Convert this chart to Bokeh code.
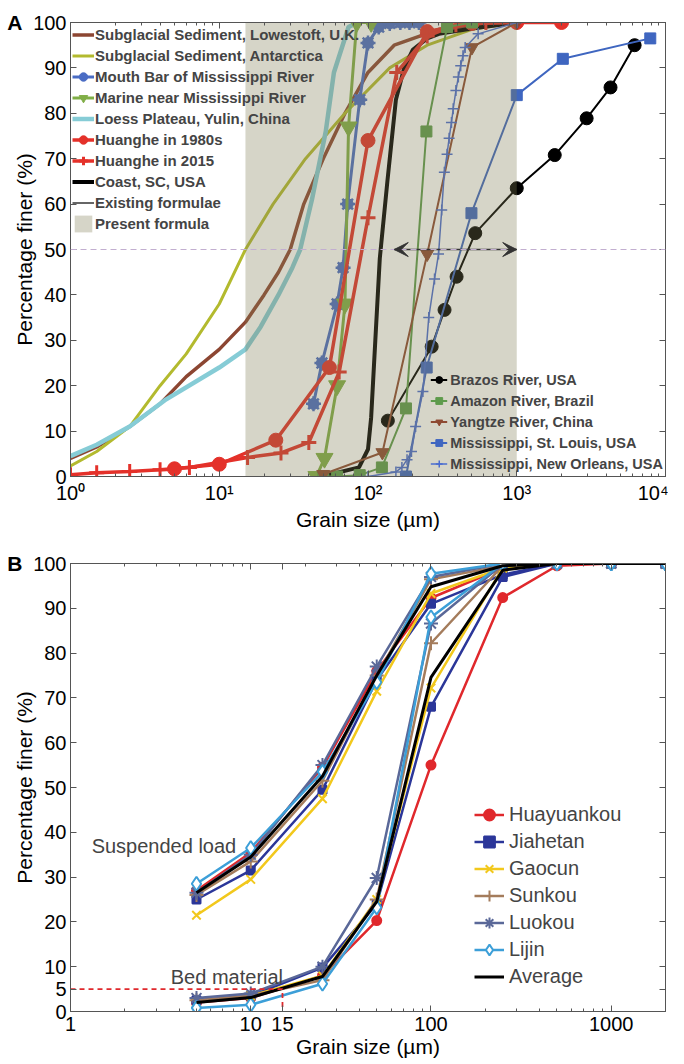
from bokeh.plotting import figure
from bokeh.layouts import column
from bokeh.models import (Range1d, FixedTicker, LinearAxis, LogAxis, Legend, LegendItem,
                          Span, Arrow, VeeHead, Label, CustomJSTickFormatter)
from bokeh.embed import file_html
from bokeh.resources import INLINE

FONT = "Liberation Sans"
AXC = "#555555"

# ---------------- Panel A data ----------------
lowestoft_x = [1, 1.5, 2.5, 4, 6, 10, 15, 20, 25, 30, 37, 50, 70, 100, 150, 300, 1000]
lowestoft_y = [4, 6.5, 11, 16, 22, 28, 34, 40, 45, 50, 60, 70, 80, 89, 95, 98.5, 100]

antarctica_x = [1, 1.5, 2.5, 4, 6, 10, 15, 23, 38, 70, 140, 250, 500, 1000]
antarctica_y = [2.3, 5.5, 11, 20, 27, 38, 50, 60, 70, 80, 90, 95, 98.5, 100]

mouthbar_x = [43, 49, 62, 68, 73, 88, 100, 118, 140, 165, 190, 220]
mouthbar_y = [16, 25, 38, 46, 60, 83, 95.5, 99, 99.8, 100, 100, 100]

marine_x = [45, 51, 62, 70, 74, 84, 105]
marine_y = [0, 4, 20, 38, 77, 100, 100]

loess_x = [1, 1.5, 2.5, 4.4, 10, 15, 19, 25, 31, 35, 42, 52, 59, 74, 85]
loess_y = [4.5, 7, 11, 17, 24, 28, 33, 40, 46, 50, 61, 76, 89, 99, 100]

hh1980_x = [5, 10, 24, 55, 100, 250, 500, 1000, 2000]
hh1980_y = [1.7, 2.7, 8, 24, 74, 98, 99.8, 100, 100]

hh2015_x = [1, 1.5, 2.5, 4, 6.3, 15.5, 26, 40, 64, 100, 156, 250, 390, 620]
hh2015_y = [0.4, 0.8, 1.1, 1.5, 2.0, 4.2, 5.2, 7.5, 23, 57, 89, 97, 99.5, 100]

coast_x = [49, 87, 100, 105, 112, 120, 135, 154, 175, 200, 250, 300, 500, 1000]
coast_y = [0, 2, 6, 13, 30, 48, 65, 83, 90, 94, 96.5, 97.5, 98.7, 100]

brazos_x = [136, 268, 327, 394, 526, 1000, 1800, 2950, 4270, 6200]
brazos_y = [12.3, 28.6, 36.7, 44, 53.6, 63.5, 70.8, 78.9, 85.7, 95]

amazon_x = [50, 62, 88, 124, 180, 247, 340, 500]
amazon_y = [0, 0, 0.3, 2, 15, 76, 99, 100]

yangtze_x = [50, 125, 250, 500, 1000]
yangtze_y = [0.5, 5.3, 49, 94.5, 100]

stlouis_x = [180, 248, 496, 1000, 2040, 7900]
stlouis_y = [0, 24, 58, 84, 92, 96.5]

neworleans_x = [100, 154, 169, 183, 196, 209, 234, 256, 280, 298, 313, 326, 340, 351,
                364, 374, 390, 405, 420, 435, 450, 550, 1000]
neworleans_y = [0, 1, 2, 3.7, 5.5, 11, 18.7, 35, 43.5, 49, 58.7, 67, 71, 74.5,
                78, 81, 85, 88, 90.5, 92.7, 94.5, 97.5, 100]

present_formula_range = [15, 1000]      # shaded band (um)
existing_formulae_range = [150, 1000]   # double arrow (um)
d50_level = 50

a_xticks = [1, 10, 100, 1000, 10000]
a_yticks = [0, 10, 20, 30, 40, 50, 60, 70, 80, 90, 100]
a_xminor = [m * d for d in (1, 10, 100, 1000) for m in (2, 3, 4, 5, 6, 7, 8, 9)]

# ---------------- Panel B data ----------------
b_x = [5, 10, 25, 50, 100, 250, 500, 1000, 2000]
stations = ["Huayuankou", "Jiahetan", "Gaocun", "Sunkou", "Luokou", "Lijin", "Average"]
suspended = {
    "Huayuankou": [27, 35.5, 54.5, 76, 92.3, 99, 100, 100, 100],
    "Jiahetan":   [25, 31.5, 49.5, 74, 91, 97.5, 100, 100, 100],
    "Gaocun":     [21.5, 29.5, 47.5, 71.5, 93.3, 99, 100, 100, 100],
    "Sunkou":     [26, 33.5, 51.5, 75, 96.5, 99.5, 100, 100, 100],
    "Luokou":     [26.5, 35, 55, 77, 97, 100, 100, 100, 100],
    "Lijin":      [28.5, 36.5, 53.5, 73.5, 97.7, 100, 100, 100, 100],
    "Average":    [26.5, 34.5, 52.5, 75, 94.8, 99.5, 100, 100, 100],
}
bed = {
    "Huayuankou": [2, 3, 8, 20.3, 55, 92.4, 99.5, 100, 100],
    "Jiahetan":   [2.5, 3.5, 9.8, 24, 68, 97, 100, 100, 100],
    "Gaocun":     [2, 3.5, 8, 25, 72.2, 99, 100, 100, 100],
    "Sunkou":     [2.5, 3.5, 7, 25, 82.2, 99.5, 100, 100, 100],
    "Luokou":     [3, 4, 10, 29.8, 86.6, 99.8, 100, 100, 100],
    "Lijin":      [0.8, 1.5, 6.2, 23.2, 88, 100, 100, 100, 100],
    "Average":    [2, 3.1, 7.8, 24.5, 74.6, 98.5, 100, 100, 100],
}
b_dashed_x = [1, 15, 15]
b_dashed_y = [5, 5, 0]
b_xticks = [1, 10, 15, 100, 1000]
b_xminor = [2, 3, 4, 5, 6, 7, 8, 9, 20, 30, 40, 50, 60, 70, 80, 90,
            200, 300, 400, 500, 600, 700, 800, 900]
b_yticks = [0, 5, 10, 20, 30, 40, 50, 60, 70, 80, 90, 100]


def style(p, xt, xm, yt, fmt_code):
    p.grid.grid_line_color = None
    p.outline_line_color = AXC
    xa = p.xaxis[0]
    ya = p.yaxis[0]
    xa.ticker = FixedTicker(ticks=xt, minor_ticks=xm)
    xa.formatter = CustomJSTickFormatter(code=fmt_code)
    ya.ticker = FixedTicker(ticks=yt)
    for ax in (xa, ya):
        ax.major_tick_in = 6
        ax.major_tick_out = 0
        ax.minor_tick_in = 3
        ax.minor_tick_out = 0
        ax.axis_line_color = AXC
        ax.major_tick_line_color = AXC
        ax.minor_tick_line_color = AXC
        ax.major_label_text_font = FONT
        ax.major_label_text_font_size = "20px"
        ax.major_label_text_color = "black"
        ax.axis_label_text_font = FONT
        ax.axis_label_text_font_size = "21px"
        ax.axis_label_text_font_style = "normal"
        ax.axis_label_text_color = "black"
    xa.axis_label_standoff = 1
    ya.axis_label_standoff = -6
    ya.minor_tick_line_color = None
    ya.major_label_standoff = 4
    xa.major_label_standoff = 5
    xa.axis_label = "Grain size (µm)"
    ya.axis_label = "Percentage finer (%)"
    top = LogAxis(ticker=FixedTicker(ticks=xt, minor_ticks=xm))
    right = LinearAxis(ticker=FixedTicker(ticks=yt))
    for ax in (top, right):
        ax.formatter = CustomJSTickFormatter(code="return ''")
        ax.major_label_text_font_size = "0px"
        ax.major_label_standoff = 0
        ax.major_tick_in = 6
        ax.major_tick_out = 0
        ax.minor_tick_in = 3
        ax.minor_tick_out = 0
        ax.axis_line_color = AXC
        ax.major_tick_line_color = AXC
        ax.minor_tick_line_color = AXC
    right.minor_tick_line_color = None
    p.add_layout(top, "above")
    p.add_layout(right, "right")


def panel_letter(p, letter, at, standoff):
    # an extra, tick-less left axis whose only label is the bold panel letter
    ax = LinearAxis(ticker=FixedTicker(ticks=[at]),
                    formatter=CustomJSTickFormatter(code="return '%s';" % letter))
    ax.axis_line_color = None
    ax.major_tick_line_color = None
    ax.minor_tick_line_color = None
    ax.major_tick_in = 0
    ax.major_tick_out = 0
    ax.minor_tick_in = 0
    ax.minor_tick_out = 0
    ax.major_label_standoff = standoff
    ax.major_label_text_font = FONT
    ax.major_label_text_font_style = "bold"
    ax.major_label_text_font_size = "21px"
    ax.major_label_text_color = "black"
    p.add_layout(ax, "left")


# ======================= Panel A =======================
pa = figure(width=668, height=535, x_axis_type="log",
            x_range=Range1d(1, 1e4), y_range=Range1d(0, 100),
            output_backend="svg", toolbar_location=None,
            min_border_left=70, min_border_right=3, min_border_top=22, min_border_bottom=59)
sup_code = """
const s = {"0":"\u2070","1":"\u00b9","2":"\u00b2","3":"\u00b3","4":"\u2074"};
const e = Math.round(Math.log10(tick));
return "10" + s[String(e)];
"""
style(pa, a_xticks, a_xminor, a_yticks, sup_code)
panel_letter(pa, "A", a_yticks[-1], -12)

BROWN = "#8c4632"
OLIVE = "#b3ba2e"
MBLUE = "#4a6cc4"
MGREEN = "#80ae47"
CYAN = "#86ccd6"
RED = "#e4312a"
AGREEN = "#5e9b4c"
YBROWN = "#8e4a32"
SBLUE = "#3f66c0"
NBLUE = "#4a6cd0"

r_low = pa.line(lowestoft_x, lowestoft_y, line_color=BROWN, line_width=3.5)
r_ant = pa.line(antarctica_x, antarctica_y, line_color=OLIVE, line_width=3)
r_loess = pa.line(loess_x, loess_y, line_color=CYAN, line_width=4.5)
r_coast = pa.line(coast_x, coast_y, line_color="black", line_width=4)

r_mb = pa.line(mouthbar_x, mouthbar_y, line_color=MBLUE, line_width=3)
r_mb_c = pa.scatter(mouthbar_x, mouthbar_y, marker="circle", size=11, fill_color=MBLUE, line_color=MBLUE)
r_mb_a = pa.scatter(mouthbar_x, mouthbar_y, marker="asterisk", size=15, line_color=MBLUE, line_width=2.5)

r_mar = pa.line(marine_x, marine_y, line_color=MGREEN, line_width=3)
r_mar_s = pa.scatter(marine_x, marine_y, marker="inverted_triangle", size=17, fill_color=MGREEN, line_color=MGREEN)

r_80 = pa.line(hh1980_x, hh1980_y, line_color=RED, line_width=3.5)
r_80_s = pa.scatter(hh1980_x, hh1980_y, marker="circle", size=14, fill_color=RED, line_color=RED)
r_15 = pa.line(hh2015_x, hh2015_y, line_color=RED, line_width=3.5)
r_15_s = pa.scatter(hh2015_x, hh2015_y, marker="cross", size=15, line_color=RED, line_width=3)

r_br = pa.line(brazos_x, brazos_y, line_color="black", line_width=2)
r_br_s = pa.scatter(brazos_x, brazos_y, marker="circle", size=13, fill_color="black", line_color="black")
r_am = pa.line(amazon_x, amazon_y, line_color=AGREEN, line_width=2)
r_am_s = pa.scatter(amazon_x, amazon_y, marker="square", size=11, fill_color=AGREEN, line_color=AGREEN)
r_ya = pa.line(yangtze_x, yangtze_y, line_color=YBROWN, line_width=2)
r_ya_s = pa.scatter(yangtze_x, yangtze_y, marker="inverted_triangle", size=13, fill_color=YBROWN, line_color=YBROWN)
r_sl = pa.line(stlouis_x, stlouis_y, line_color=SBLUE, line_width=2)
r_sl_s = pa.scatter(stlouis_x, stlouis_y, marker="square", size=11, fill_color=SBLUE, line_color=SBLUE)
r_no = pa.line(neworleans_x, neworleans_y, line_color=NBLUE, line_width=1.5)
r_no_s = pa.scatter(neworleans_x, neworleans_y, marker="cross", size=11, line_color=NBLUE, line_width=1.5)

r_shade = pa.quad(left=[present_formula_range[0]], right=[present_formula_range[1]],
                  bottom=[0], top=[100], fill_color="#7f7c53", fill_alpha=0.32, line_color=None)

pa.add_layout(Span(location=d50_level, dimension="width", line_color="#c2aed0",
                   line_dash="6 4", line_width=1.2))
r_arrow = pa.segment(x0=[existing_formulae_range[0]], y0=[d50_level],
                     x1=[existing_formulae_range[1]], y1=[d50_level],
                     line_color="#333333", line_width=1.5)
pa.add_layout(Arrow(start=VeeHead(size=14, line_color="#333333", fill_color="#333333"),
                    end=VeeHead(size=14, line_color="#333333", fill_color="#333333"),
                    x_start=existing_formulae_range[0], y_start=d50_level,
                    x_end=existing_formulae_range[1], y_end=d50_level,
                    line_alpha=0))

leg1 = Legend(items=[
    LegendItem(label="Subglacial Sediment, Lowestoft, U.K.", renderers=[r_low]),
    LegendItem(label="Subglacial Sediment, Antarctica", renderers=[r_ant]),
    LegendItem(label="Mouth Bar of Mississippi River", renderers=[r_mb, r_mb_c]),
    LegendItem(label="Marine near Mississippi River", renderers=[r_mar, r_mar_s]),
    LegendItem(label="Loess Plateau, Yulin, China", renderers=[r_loess]),
    LegendItem(label="Huanghe in 1980s", renderers=[r_80, r_80_s]),
    LegendItem(label="Huanghe in 2015", renderers=[r_15, r_15_s]),
    LegendItem(label="Coast, SC, USA", renderers=[r_coast]),
    LegendItem(label="Existing formulae", renderers=[r_arrow]),
    LegendItem(label="Present formula", renderers=[r_shade]),
], location="top_left", label_text_font=FONT, label_text_font_size="15px",
    label_text_font_style="bold", glyph_width=22, glyph_height=21, label_height=21,
    spacing=0, padding=1, margin=1, label_standoff=1,
    background_fill_alpha=0, border_line_alpha=0)
pa.add_layout(leg1)

leg2 = Legend(items=[
    LegendItem(label="Brazos River, USA", renderers=[r_br, r_br_s]),
    LegendItem(label="Amazon River, Brazil", renderers=[r_am, r_am_s]),
    LegendItem(label="Yangtze River, China", renderers=[r_ya, r_ya_s]),
    LegendItem(label="Mississippi, St. Louis, USA", renderers=[r_sl, r_sl_s]),
    LegendItem(label="Mississippi, New Orleans, USA", renderers=[r_no, r_no_s]),
], location="bottom_right", label_text_font=FONT, label_text_font_size="14.5px",
    label_text_font_style="bold", glyph_width=17, glyph_height=21, label_height=21,
    spacing=0, padding=1, margin=1, label_standoff=3,
    background_fill_alpha=0, border_line_alpha=0)
pa.add_layout(leg2)

# ======================= Panel B =======================
pb = figure(width=668, height=529, x_axis_type="log",
            x_range=Range1d(1, 2000), y_range=Range1d(0, 100),
            output_backend="svg", toolbar_location=None,
            min_border_left=69, min_border_right=0, min_border_top=28, min_border_bottom=53)
style(pb, b_xticks, b_xminor, b_yticks, "return tick.toFixed(0);")
panel_letter(pb, "B", b_yticks[-1], -12)

bstyle = {
    "Huayuankou": dict(color="#e0282c", marker="circle", size=9, fill="#e0282c", lw=2.5),
    "Jiahetan": dict(color="#2b3699", marker="square", size=8, fill="#2b3699", lw=2.5),
    "Gaocun": dict(color="#f2c81c", marker="x", size=12, fill=None, lw=2.5),
    "Sunkou": dict(color="#a47c5c", marker="cross", size=14, fill=None, lw=2.5),
    "Luokou": dict(color="#5a6898", marker="asterisk", size=14, fill=None, lw=2.5),
    "Lijin": dict(color="#3c9fd8", marker="diamond", size=14, fill="white", lw=2.5),
    "Average": dict(color="black", marker=None, size=0, fill=None, lw=3),
}

b_items = []
for name in stations:
    st = bstyle[name]
    rs = []
    for series in (suspended[name], bed[name]):
        rl = pb.line(b_x, series, line_color=st["color"], line_width=st["lw"])
        rs.append(rl)
        if st["marker"]:
            rm = pb.scatter(b_x, series, marker=st["marker"], size=st["size"],
                            line_color=st["color"], line_width=2,
                            fill_color=st["fill"] if st["fill"] else st["color"])
            rs.append(rm)
    b_items.append(LegendItem(label=name, renderers=rs[:2] if st["marker"] else rs[:1]))

pb.line(b_dashed_x, b_dashed_y, line_color="#e0282c", line_dash="5 4", line_width=1.8)

leg_b = Legend(items=b_items, location=(401, 18), label_text_font=FONT,
               label_text_font_size="20px", glyph_width=30, glyph_height=27, label_height=27,
               spacing=0, padding=3, margin=0, label_standoff=5,
               background_fill_alpha=0, border_line_alpha=0)
pb.add_layout(leg_b)

pb.add_layout(Label(x=1.31, y=37, text="Suspended load", text_font=FONT,
                    text_font_size="20px", text_baseline="alphabetic"))
pb.add_layout(Label(x=3.6, y=7.8, text="Bed material", text_font=FONT,
                    text_font_size="20px", text_baseline="alphabetic"))

layout = column(pa, pb, spacing=0)
with open("out.html", "w", encoding="utf-8") as f:
    f.write(file_html(layout, INLINE))
